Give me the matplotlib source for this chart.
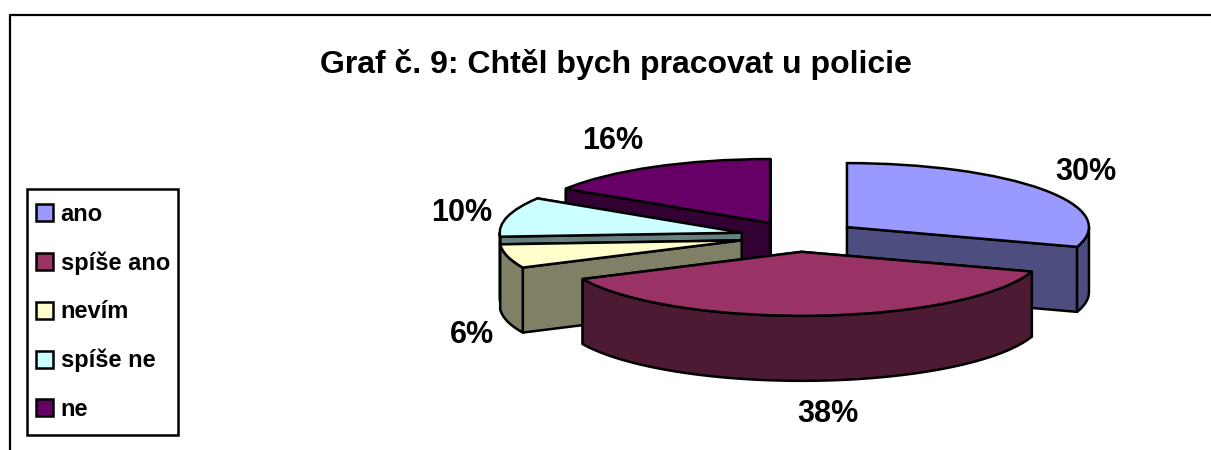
import matplotlib
matplotlib.use('Agg')
import matplotlib.pyplot as plt
from matplotlib.patches import Patch, Polygon, Rectangle
import numpy as np

plt.rcParams['font.family'] = ['Liberation Sans', 'DejaVu Sans']

# data
labels = ['ano', 'spíše ano', 'nevím', 'spíše ne', 'ne']
values = [30, 38, 6, 10, 16]
title = 'Graf č. 9: Chtěl bych pracovat u policie'

# styles
top_colors = ['#9999FF', '#993366', '#FFFFCC', '#CCFFFF', '#660066']
side_colors = ['#4D4D80', '#4D1A33', '#808066', '#668080', '#330033']
explode = [0.25, 0.24, 0.24, 0.24, 0.24]

W, H = 1211, 450
PX = 242.0   # pixels per pie radius, horizontal
PY = 64.0    # pixels per pie radius, vertical
CX, CY = 798, 236.5
DEPTH = 65 / PY
LW = 1.8

fig = plt.figure(figsize=(W / 100, H / 100), dpi=100)
ax = fig.add_axes([0, 0, 1, 1])
wedges, _ = ax.pie(values, colors=top_colors, explode=explode, startangle=90,
                   counterclock=False, frame=True,
                   wedgeprops={'edgecolor': 'k', 'linewidth': LW})
ax.set_aspect('auto')
ax.set_xlim(-CX / PX, (W - CX) / PX)
ax.set_ylim(-(H - CY) / PY, CY / PY)
ax.axis('off')


def rim(w, deg):
    a = np.radians(deg)
    return w.center[0] + np.cos(a) * w.r, w.center[1] + np.sin(a) * w.r


# back slices first, so nearer ones cover them
order = sorted(range(len(wedges)), key=lambda i: -wedges[i].center[1])
for n, i in enumerate(order):
    w = wedges[i]
    z = 2 + n * 3
    w.set_zorder(z + 2)
    cx, cy = w.center
    side = {'facecolor': side_colors[i], 'edgecolor': 'k', 'linewidth': LW,
            'joinstyle': 'round'}

    # flat cut faces, the one higher up on the picture goes first
    cuts = sorted([w.theta1, w.theta2], key=lambda d: -rim(w, d)[1])
    for d in cuts:
        x, y = rim(w, d)
        ax.add_patch(Polygon([(cx, cy), (x, y), (x, y - DEPTH), (cx, cy - DEPTH)],
                             zorder=z, **side))

    # round outer wall, only the part facing the viewer
    a = np.linspace(w.theta1, w.theta2, 200)
    a = a[np.sin(np.radians(a)) <= 0]
    if len(a) > 1:
        x = cx + np.cos(np.radians(a)) * w.r
        y = cy + np.sin(np.radians(a)) * w.r
        pts = np.r_[np.c_[x, y], np.c_[x, y - DEPTH][::-1]]
        ax.add_patch(Polygon(pts, zorder=z + 1, **side))

# percent labels
label_pos = [(1086, 172), (828, 414), (472, 335), (462, 213), (613, 141)]
for v, (px, py) in zip(values, label_pos):
    fig.text(px / W, 1 - py / H, f'{v}%', fontsize=22, fontweight='bold',
             ha='center', va='center')

fig.text(616 / W, 1 - 64.5 / H, title, fontsize=23, fontweight='bold',
         ha='center', va='center')

# outer border, open on the right and at the bottom
fig.add_artist(plt.Line2D([9.5 / W, 9.5 / W, 1], [0, 1 - 15 / H, 1 - 15 / H],
                          color='k', linewidth=1.6))

# legend box drawn apart, its padding differs across and down
fig.add_artist(Rectangle((27 / W, 1 - 435 / H), 151 / W, 246 / H, facecolor='w',
                         edgecolor='k', linewidth=LW, transform=fig.transFigure))
handles = [Patch(facecolor=c, edgecolor='k', linewidth=LW) for c in top_colors]
leg = fig.legend(handles, labels, loc='upper left',
                 bbox_to_anchor=(27 / W, 1 - 193.5 / H), bbox_transform=fig.transFigure,
                 prop={'size': 17, 'weight': 'bold'}, frameon=False, borderaxespad=0,
                 handlelength=0.72, handleheight=0.72, handletextpad=0.3,
                 labelspacing=1.08, borderpad=0.4)

fig.savefig('out.png', dpi=100)
